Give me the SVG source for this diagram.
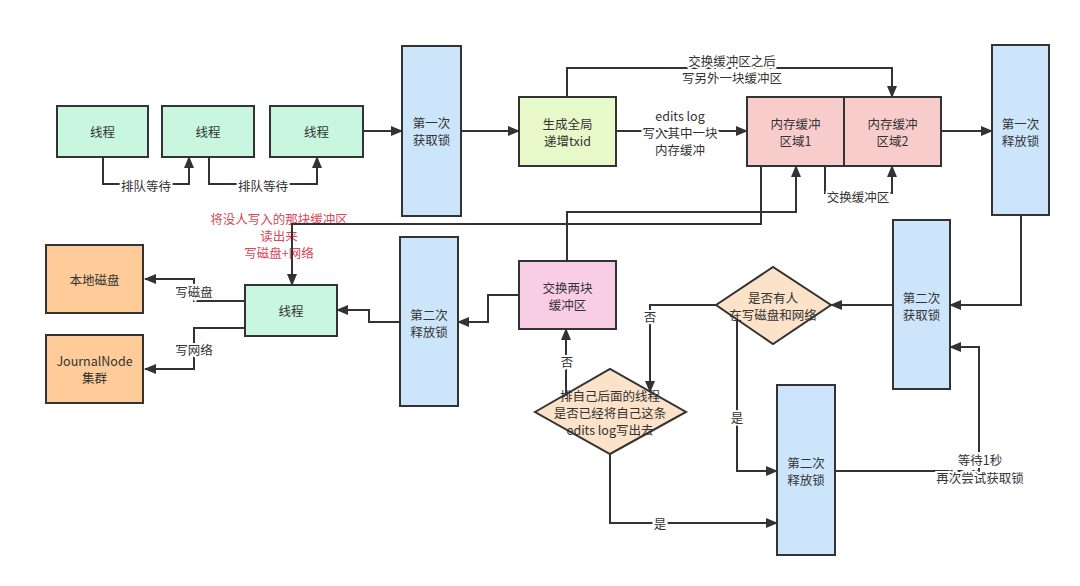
<svg xmlns="http://www.w3.org/2000/svg" width="1080" height="586" viewBox="0 0 1080 586">
<defs>
<marker id="ah" markerWidth="12" markerHeight="12" refX="11" refY="6" orient="auto" markerUnits="userSpaceOnUse">
<path d="M0,1 L12,6 L0,11 Z" fill="#333"/>
</marker>
<style>
.n{stroke:#333;stroke-width:2}
.g{fill:#c9f6df}
.b{fill:#cce5fb}
.y{fill:#e8f9c9}
.p{fill:#f9cccc}
.m{fill:#f9cde6}
.o{fill:#ffcc99}
.d{fill:#fbe2c8}
text{font-family:"Noto Sans CJK SC","Noto Sans",sans-serif;font-size:12.5px;fill:#333;text-anchor:middle;dominant-baseline:central}
.c path{fill:none;stroke:#333;stroke-width:2}
.l{paint-order:stroke;stroke:#fff;stroke-width:4px}
.r{fill:#d9455a}
</style>
</defs>
<rect width="1080" height="586" fill="#fff"/>

<g id="red">
<text class="r" x="279" y="218">将没人写入的那块缓冲区</text>
<text class="r" x="279" y="235">读出来</text>
<text class="r" x="279" y="252">写磁盘+网络</text>
</g>

<g id="t1"><rect class="n g" x="57" y="106" width="91" height="51"/><text x="102.5" y="131">线程</text></g>
<g id="t2"><rect class="n g" x="162" y="106" width="92" height="51"/><text x="208" y="131">线程</text></g>
<g id="t3"><rect class="n g" x="270" y="106" width="93" height="51"/><text x="316.5" y="131">线程</text></g>
<g id="lock1"><rect class="n b" x="402" y="46" width="59" height="170"/><text x="431.5" y="122">第一次</text><text x="431.5" y="139">获取锁</text></g>
<g id="txid"><rect class="n y" x="519" y="97" width="97" height="69"/><text x="567.5" y="123">生成全局</text><text x="567.5" y="140">递增txid</text></g>
<g id="buf1"><rect class="n p" x="747" y="97" width="97" height="69"/><text x="795.5" y="123">内存缓冲</text><text x="795.5" y="140">区域1</text></g>
<g id="buf2"><rect class="n p" x="844" y="97" width="97" height="69"/><text x="892.5" y="123">内存缓冲</text><text x="892.5" y="140">区域2</text></g>
<g id="rel1"><rect class="n b" x="992" y="45" width="57" height="170"/><text x="1020.5" y="123">第一次</text><text x="1020.5" y="140">释放锁</text></g>
<g id="lock2"><rect class="n b" x="893" y="220" width="57" height="169"/><text x="921.5" y="297">第二次</text><text x="921.5" y="314">获取锁</text></g>
<g id="dec1"><path class="n d" d="M716,305 L773,267 L831,305 L773,344 Z"/><text x="773" y="297">是否有人</text><text x="773" y="314">在写磁盘和网络</text></g>
<g id="dec2"><path class="n d" d="M535,412 L610,369 L686,412 L610,454 Z"/><text x="610" y="395">排自己后面的线程</text><text x="610" y="412">是否已经将自己这条</text><text x="610" y="429">edits log写出去</text></g>
<g id="rel2b"><rect class="n b" x="777" y="385" width="58" height="170"/><text x="806" y="462">第二次</text><text x="806" y="479">释放锁</text></g>
<g id="swap"><rect class="n m" x="519" y="261" width="97" height="68"/><text x="567.5" y="287">交换两块</text><text x="567.5" y="304">缓冲区</text></g>
<g id="rel2a"><rect class="n b" x="400" y="237" width="58" height="169"/><text x="429" y="314">第二次</text><text x="429" y="331">释放锁</text></g>
<g id="t4"><rect class="n g" x="245" y="285" width="92" height="51"/><text x="291" y="310">线程</text></g>
<g id="disk"><rect class="n o" x="46" y="245" width="97" height="68"/><text x="94.5" y="279">本地磁盘</text></g>
<g id="jn"><rect class="n o" x="46" y="335" width="97" height="68"/><text x="94.5" y="360">JournalNode</text><text x="94.5" y="377">集群</text></g>

<g class="c">
<path d="M363,131 H402" marker-end="url(#ah)"/>
<path d="M103,157 V184 H189 V157" marker-end="url(#ah)"/>
<path d="M209,157 V184 H317 V157" marker-end="url(#ah)"/>
<path d="M461,131 H519" marker-end="url(#ah)"/>
<path d="M616,131 H747" marker-end="url(#ah)"/>
<path d="M567,97 V68 H892 V97" marker-end="url(#ah)"/>
<path d="M941,131 H992" marker-end="url(#ah)"/>
<path d="M825,166 V193 H892 V166" marker-end="url(#ah)"/>
<path d="M761,166 V224 H292 V285" marker-end="url(#ah)"/>
<path d="M567,261 V212 H796 V166" marker-end="url(#ah)"/>
<path d="M1021,215 V305 H950" marker-end="url(#ah)"/>
<path d="M893,305 H831" marker-end="url(#ah)"/>
<path d="M716,305 H650 V392" marker-end="url(#ah)"/>
<path d="M737,320 V471 H777" marker-end="url(#ah)"/>
<path d="M835,471 H979 V347 H950" marker-end="url(#ah)"/>
<path d="M566,395 V329" marker-end="url(#ah)"/>
<path d="M610,454 V523 H777" marker-end="url(#ah)"/>
<path d="M519,295 H488 V322 H458" marker-end="url(#ah)"/>
<path d="M400,322 H369 V310 H337" marker-end="url(#ah)"/>
<path d="M245,301 H194 V279 H145" marker-end="url(#ah)"/>
<path d="M245,328 H194 V369 H145" marker-end="url(#ah)"/>
</g>

<g id="labels">
<text class="l" x="146" y="185">排队等待</text>
<text class="l" x="263" y="185">排队等待</text>
<text class="l" x="680" y="115">edits log</text>
<text class="l" x="680" y="132">写入其中一块</text>
<text class="l" x="680" y="149">内存缓冲</text>
<text class="l" x="732" y="60">交换缓冲区之后</text>
<text class="l" x="732" y="77">写另外一块缓冲区</text>
<text class="l" x="858" y="196">交换缓冲区</text>
<text class="l" x="650" y="316">否</text>
<text class="l" x="737" y="417">是</text>
<text class="l" x="980" y="459">等待1秒</text>
<text class="l" x="980" y="477">再次尝试获取锁</text>
<text class="l" x="567" y="361">否</text>
<text class="l" x="660" y="523">是</text>
<text class="l" x="194" y="291">写磁盘</text>
<text class="l" x="194" y="349">写网络</text>
</g>
</svg>
